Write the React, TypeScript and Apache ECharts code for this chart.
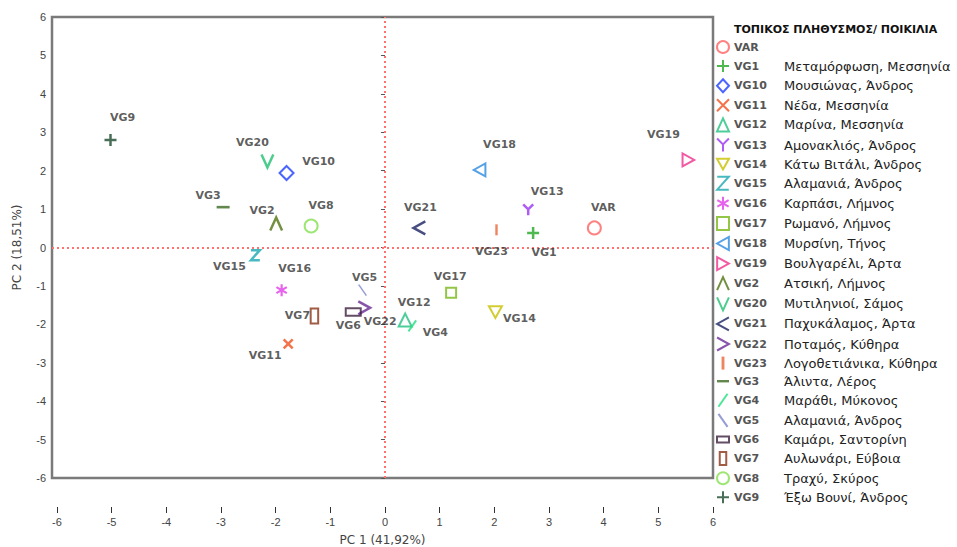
import React, { useEffect, useRef } from "react";
import * as echarts from "echarts";

// PCA scores of the local populations / varieties (PC1, PC2)
const varieties = [
  "VAR", "VG1", "VG10", "VG11", "VG12", "VG13", "VG14", "VG15", "VG16", "VG17", "VG18", "VG19",
  "VG2", "VG20", "VG21", "VG22", "VG23", "VG3", "VG4", "VG5", "VG6", "VG7", "VG8", "VG9",
];
const pc1 = [
  3.83, 2.71, -1.8, -1.77, 0.37, 2.62, 2.02, -2.37, -1.89, 1.21, 1.73, 5.55,
  -1.99, -2.15, 0.63, -0.38, 2.04, -2.96, 0.5, -0.41, -0.58, -1.29, -1.35, -5.02,
];
const pc2 = [
  0.51, 0.38, 1.94, -2.51, -1.89, 0.98, -1.68, -0.2, -1.11, -1.18, 2.02, 2.28,
  0.61, 2.25, 0.51, -1.57, 0.46, 1.05, -2.04, -1.11, -1.68, -1.78, 0.56, 2.8,
];
const origins = [
  "", "Μεταμόρφωση, Μεσσηνία", "Μουσιώνας, Άνδρος", "Νέδα, Μεσσηνία", "Μαρίνα, Μεσσηνία",
  "Αμονακλιός, Άνδρος", "Κάτω Βιτάλι, Άνδρος", "Αλαμανιά, Άνδρος", "Καρπάσι, Λήμνος",
  "Ρωμανό, Λήμνος", "Μυρσίνη, Τήνος", "Βουλγαρέλι, Άρτα", "Ατσική, Λήμνος", "Μυτιληνιοί, Σάμος",
  "Παχυκάλαμος, Άρτα", "Ποταμός, Κύθηρα", "Λογοθετιάνικα, Κύθηρα", "Άλιντα, Λέρος",
  "Μαράθι, Μύκονος", "Αλαμανιά, Άνδρος", "Καμάρι, Σαντορίνη", "Αυλωνάρι, Εύβοια",
  "Τραχύ, Σκύρος", "Έξω Βουνί, Άνδρος",
];
const xTicks = [-6, -5, -4, -3, -2, -1, 0, 1, 2, 3, 4, 5, 6];
const legendTitle = "ΤΟΠΙΚΟΣ ΠΛΗΘΥΣΜΟΣ/ ΠΟΙΚΙΛΙΑ";
const xName = "PC 1 (41,92%)";
const yName = "PC 2 (18,51%)";

const SANS = "'Liberation Sans', Arial, sans-serif";
const WIDE = "'DejaVu Sans', 'Liberation Sans', sans-serif";

// marker shape, colour and label placement for each variety
type Marker = { symbol: string; size: number; color: string; filled?: boolean; width?: number; off: [number, number] };
const P = {
  plus: "path://M0,5L10,5M5,0L5,10",
  cross: "path://M0,0L10,10M10,0L0,10",
  triDown: "path://M0,0L10,0L5,9Z",
  triLeft: "path://M10,0L10,10L1,5Z",
  triRight: "path://M0,0L0,10L9,5Z",
  ylet: "path://M0,0L5,5L10,0M5,5L5,11",
  zlet: "path://M1,0L9,0L1,9L9,9",
  star: "path://M5,0L5,10M0.67,2.5L9.33,7.5M0.67,7.5L9.33,2.5",
  caret: "path://M0,11L5,0L10,11",
  vee: "path://M0,0L5,11L10,0",
  lt: "path://M10,0L0,5.5L10,11",
  gt: "path://M0,0L10,5.5L0,11",
  bar: "path://M0,0L2.2,0L2.2,10L0,10Z",
  dash: "path://M0,0L10,0L10,2L0,2Z",
  slash: "path://M0,10L7,0",
  backslash: "path://M0,0L7,10",
  hrect: "path://M0,0L16,0L16,8L0,8Z",
  vrect: "path://M0,0L7,0L7,14L0,14Z",
};
const markers: Record<string, Marker> = {
  VAR: { symbol: "circle", size: 13, color: "#ff6262", off: [9, -20] },
  VG1: { symbol: P.plus, size: 12, color: "#22a822", width: 2.5, off: [11, 20] },
  VG10: { symbol: "diamond", size: 14, color: "#1f3fff", off: [32, -11] },
  VG11: { symbol: P.cross, size: 9, color: "#f0501e", width: 2.5, off: [-23, 12] },
  VG12: { symbol: "triangle", size: 13, color: "#20c080", off: [9, -18] },
  VG13: { symbol: P.ylet, size: 11, color: "#9a33f0", width: 2.5, off: [19, -18] },
  VG14: { symbol: P.triDown, size: 13, color: "#c8c000", off: [24, 6] },
  VG15: { symbol: P.zlet, size: 10, color: "#1aa8b0", width: 2.5, off: [-26, 11] },
  VG16: { symbol: P.star, size: 12, color: "#e23ce8", width: 2.2, off: [13, -22] },
  VG17: { symbol: "rect", size: 10, color: "#78b818", off: [-1, -16] },
  VG18: { symbol: P.triLeft, size: 13, color: "#2a8ae0", off: [20, -25] },
  VG19: { symbol: P.triRight, size: 13, color: "#f0308c", off: [-25, -25] },
  VG2: { symbol: P.caret, size: 13, color: "#4f7410", width: 2.5, off: [-14, -14] },
  VG20: { symbol: P.vee, size: 13, color: "#20c070", width: 2.5, off: [-15, -19] },
  VG21: { symbol: P.lt, size: 13, color: "#1a2260", width: 2.5, off: [1, -20] },
  VG22: { symbol: P.gt, size: 13, color: "#6a2a96", width: 2.5, off: [16, 14] },
  VG23: { symbol: P.bar, size: 11, color: "#e8673a", filled: true, off: [-5, 22] },
  VG3: { symbol: P.dash, size: 13, color: "#3b6a22", filled: true, off: [-15, -12] },
  VG4: { symbol: P.slash, size: 11, color: "#20e080", width: 2, off: [23, 7] },
  VG5: { symbol: P.backslash, size: 11, color: "#7a84c8", width: 1.5, off: [2, -13] },
  VG6: { symbol: P.hrect, size: 15, color: "#3e1f3e", off: [-5, 13] },
  VG7: { symbol: P.vrect, size: 15, color: "#8a3318", off: [-17, 0] },
  VG8: { symbol: "circle", size: 13, color: "#86e050", off: [10, -20] },
  VG9: { symbol: P.plus, size: 12, color: "#1c4a2e", width: 2.5, off: [12, -22] },
};

export default function App() {
  const ref = useRef<HTMLDivElement>(null);

  useEffect(() => {
    if (!ref.current) return;
    document.body.style.margin = "0";
    const chart = echarts.init(ref.current, undefined, { renderer: "svg" });

    const originOf: Record<string, string> = {};
    varieties.forEach((v, i) => (originOf[v] = origins[i]));

    const series: any[] = varieties.map((name, i) => {
      const m = markers[name];
      return {
        type: "scatter",
        name,
        data: [[pc1[i], pc2[i]]],
        symbol: m.symbol,
        symbolSize: m.size,
        symbolKeepAspect: true,
        itemStyle: m.filled
          ? { color: m.color, borderWidth: 0 }
          : { color: "rgba(255,255,255,0)", borderColor: m.color, borderWidth: m.width ?? 2 },
        label: {
          show: true,
          position: "inside",
          offset: m.off,
          formatter: name,
          color: "#333",
          fontSize: 11,
          fontWeight: "bold",
          fontFamily: WIDE,
          textBorderWidth: 0,
        },
        emphasis: { disabled: true },
        z: 3,
      };
    });

    // dotted reference lines through the origin
    series[0].markLine = {
      silent: true,
      symbol: ["none", "none"],
      label: { show: false },
      lineStyle: { color: "#ff7070", type: [2, 3], width: 2 },
      data: [{ xAxis: 0 }, { yAxis: 0 }],
      z: 1,
    };

    chart.setOption({
      animation: false,
      title: {
        text: legendTitle,
        left: 734,
        top: 24,
        padding: 0,
        textStyle: { fontSize: 11, fontWeight: "bold", color: "#111", fontFamily: WIDE },
      },
      grid: {
        left: 52,
        right: 244,
        top: 17,
        bottom: 69,
        show: true,
        borderColor: "#7a7a7a",
        borderWidth: 2.5,
        backgroundColor: "transparent",
        outerBoundsMode: "none",
      },
      xAxis: {
        type: "value",
        min: -6.09,
        max: 6,
        position: "bottom",
        offset: 29,
        axisLine: { show: true, onZero: false, lineStyle: { color: "rgba(0,0,0,0)" } },
        axisTick: { show: true, customValues: xTicks, length: 6, lineStyle: { color: "#333", width: 1 } },
        axisLabel: { customValues: xTicks, margin: 9, fontSize: 11, color: "#444", fontFamily: SANS },
        splitLine: { show: false },
        name: xName,
        nameLocation: "middle",
        nameGap: 27,
        nameTextStyle: { fontSize: 12, color: "#444", fontFamily: WIDE },
      },
      yAxis: {
        type: "value",
        min: -6,
        max: 6,
        interval: 1,
        axisLine: { show: false },
        axisTick: { show: true, length: 4, lineStyle: { color: "#555" } },
        axisLabel: { fontSize: 11, color: "#444", margin: 6, fontFamily: SANS },
        splitLine: { show: false },
        name: yName,
        nameLocation: "middle",
        nameGap: 29,
        nameRotate: 90,
        nameTextStyle: { fontSize: 12, color: "#444", fontFamily: WIDE },
      },
      legend: {
        orient: "vertical",
        left: 716,
        top: 40,
        padding: 0,
        itemWidth: 12,
        itemHeight: 13,
        itemGap: 5.1,
        selectedMode: false,
        data: varieties,
        formatter: (name: string) => `{n|${name}}{d|${originOf[name]}}`,
        textStyle: {
          fontFamily: WIDE,
          lineHeight: 13,
          rich: {
            n: { width: 50, fontSize: 11, fontWeight: "bold", color: "#555", lineHeight: 13, fontFamily: WIDE },
            d: { fontSize: 13, color: "#222", lineHeight: 13, fontFamily: WIDE },
          },
        },
      },
      series,
    });

    return () => chart.dispose();
  }, []);

  return <div ref={ref} style={{ width: 957, height: 547 }} />;
}
